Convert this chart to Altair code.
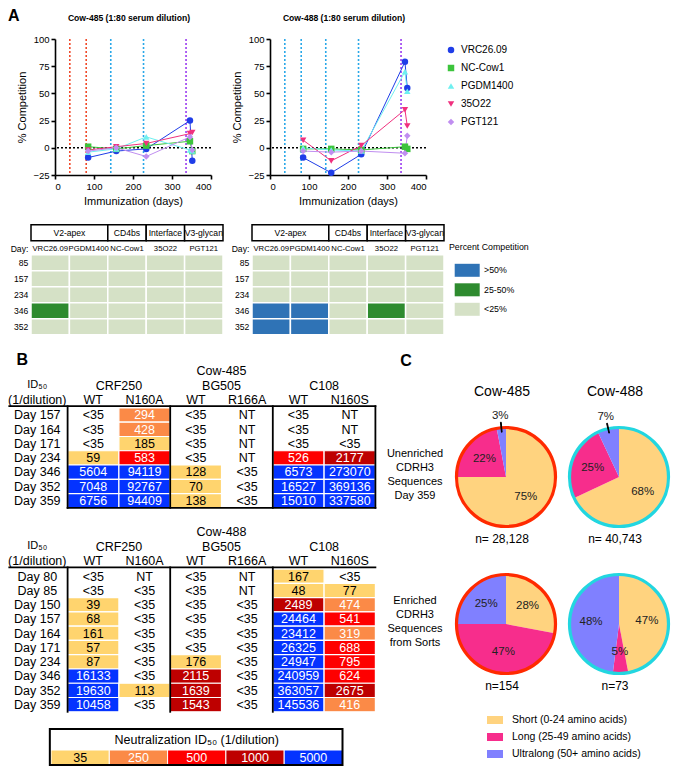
import math
import altair as alt
import pandas as pd

# ============================ DATA ============================
# --- Panel A: competition ELISA (% competition) ---
comp_days = [85, 157, 234, 346, 352]
antibodies = ["VRC26.09", "NC-Cow1", "PGDM1400", "35O22", "PGT121"]
c485_vrc2609 = [-9, -3, -1, 25, -12]
c485_nccow1 = [1, -1, 2, 6, -3]
c485_pgdm1400 = [-4, -1, 10, -2, -3]
c485_35o22 = [-2, 1, 4, 13, 14]
c485_pgt121 = [-3, 0, -8, 10, -2]
c488_vrc2609 = [-9, -23, -6, 79, 55]
c488_nccow1 = [-1, -1, -2, 1, -1]
c488_pgdm1400 = [0, -2, -3, 70, 52]
c488_35o22 = [7, -12, 2, 35, 20]
c488_pgt121 = [-3, -4, -3, -5, 11]
imm_kinds = ["Immunogen 1", "Immunogen 2", "Immunogen 3"]
imm485_days = [38, 80, 143, 227, 336]
imm485_kind = ["Immunogen 1", "Immunogen 1", "Immunogen 2", "Immunogen 2", "Immunogen 3"]
imm488_days = [38, 80, 143, 227, 336]
imm488_kind = ["Immunogen 2", "Immunogen 2", "Immunogen 2", "Immunogen 2", "Immunogen 3"]
x_ticks = [0, 100, 200, 300, 400]
y_ticks = [-25, 0, 25, 50, 75, 100]
line_titles = ["Cow-485 (1:80 serum dilution)", "Cow-488 (1:80 serum dilution)"]

# --- Panel A: heat maps ---
heat_cols = ["VRC26.09", "PGDM1400", "NC-Cow1", "35O22", "PGT121"]
heat_days = [85, 157, 234, 346, 352]
epitopes = ["V2-apex", "CD4bs", "Interface", "V3-glycan"]
epitope_ncols = [2, 1, 1, 1]
levels = [">50%", "25-50%", "<25%"]
heat485_rows = [
    ["<25%", "<25%", "<25%", "<25%", "<25%"],
    ["<25%", "<25%", "<25%", "<25%", "<25%"],
    ["<25%", "<25%", "<25%", "<25%", "<25%"],
    ["25-50%", "<25%", "<25%", "<25%", "<25%"],
    ["<25%", "<25%", "<25%", "<25%", "<25%"],
]
heat488_rows = [
    ["<25%", "<25%", "<25%", "<25%", "<25%"],
    ["<25%", "<25%", "<25%", "<25%", "<25%"],
    ["<25%", "<25%", "<25%", "<25%", "<25%"],
    [">50%", ">50%", "<25%", "25-50%", "<25%"],
    [">50%", ">50%", "<25%", "<25%", "<25%"],
]

# --- Panel B: neutralization ID50 tables ---
b_groups = ["CRF250", "BG505", "C108"]
b_sub = ["WT", "N160A", "WT", "R166A", "WT", "N160S"]
t485_days = [157, 164, 171, 234, 346, 352, 359]
t485_crf_wt = ["<35", "<35", "<35", "59", "5604", "7048", "6756"]
t485_crf_n160a = ["294", "428", "185", "583", "94119", "92767", "94409"]
t485_bg_wt = ["<35", "<35", "<35", "<35", "128", "70", "138"]
t485_bg_r166a = ["NT", "NT", "NT", "NT", "<35", "<35", "<35"]
t485_c108_wt = ["<35", "<35", "<35", "526", "6573", "16527", "15010"]
t485_c108_n160s = ["NT", "NT", "<35", "2177", "273070", "369136", "337580"]
t488_days = [80, 85, 150, 157, 164, 171, 234, 346, 352, 359]
t488_crf_wt = ["<35", "<35", "39", "68", "161", "57", "87", "16133", "19630", "10458"]
t488_crf_n160a = ["NT", "<35", "<35", "<35", "<35", "<35", "<35", "<35", "113", "<35"]
t488_bg_wt = ["<35", "<35", "<35", "<35", "<35", "<35", "176", "2115", "1639", "1543"]
t488_bg_r166a = ["NT", "NT", "<35", "<35", "<35", "<35", "<35", "<35", "<35", "<35"]
t488_c108_wt = ["167", "48", "2489", "24464", "23412", "26325", "24947", "240959", "363057", "145536"]
t488_c108_n160s = ["<35", "77", "474", "541", "319", "688", "795", "624", "2675", "416"]
neut_labels = ["35", "250", "500", "1000", "5000"]
neut_thresholds = [35, 250, 500, 1000, 5000]

# --- Panel C: CDRH3 length pies ---
pie_cows = ["Cow-485", "Cow-488"]
pie_rows = ["Unenriched", "Enriched"]
len_classes = ["Short (0-24 amino acids)", "Long (25-49 amino acids)", "Ultralong (50+ amino acids)"]
pie485_unenriched = [75, 22, 3]
pie488_unenriched = [68, 25, 7]
pie485_enriched = [28, 47, 25]
pie488_enriched = [47, 5, 48]
pie_n_unenriched = ["n= 28,128", "n= 40,743"]
pie_n_enriched = ["n=154", "n=73"]
pie_row_text = ["Unenriched\nCDRH3\nSequences\nDay 359", "Enriched\nCDRH3\nSequences\nfrom Sorts"]

# ============================ STYLE ============================
FONT = '"Liberation Sans", Arial, sans-serif'
ab_colors = ["#1f3de8", "#3cc43c", "#6ff0f0", "#f0307e", "#c08ef0"]
ab_shapes = ["circle", "square", "triangle-up", "triangle-down", "diamond"]
imm_colors = ["#f04a2a", "#2aa8e8", "#9b3df0"]
level_colors = ["#2f73b6", "#2e8b2f", "#d5e1c6"]
neut_colors = ["#ffd46e", "#fb8a47", "#fe0000", "#be0000", "#0433ff"]
pie_colors = ["#ffd37f", "#f72d8c", "#8080ff"]
pie_ring = ["#ff2a00", "#22d6e0"]

# All rows share the same left origin (the left axis of the first line chart);
# label columns of the lower rows hang to the left of that origin.
ORIGIN = 50.7


# ============================ PANEL A: LINES ============================
def comp_frame(arrays):
    rows = []
    for ab, vals in zip(antibodies, arrays):
        for d, v in zip(comp_days, vals):
            rows.append({"ab": ab, "day": d, "val": v})
    return pd.DataFrame(rows)


def axis(values, title):
    return alt.Axis(values=values, title=title, grid=False, domainColor="black", domainWidth=1.6,
                    tickColor="black", tickWidth=1.6, tickSize=4, labelFontSize=9.5, labelColor="black",
                    labelFont=FONT, titleFont=FONT, titleFontSize=11, titleFontWeight="normal",
                    titleColor="black", labelPadding=2, titlePadding=5)


def line_panel(arrays, imm_days, imm_kind, title, legend, letter):
    df = comp_frame(arrays)
    imm = pd.DataFrame({"day": imm_days, "kind": imm_kind})
    xs = alt.Scale(domain=[0, 400], nice=False, zero=False)
    ys = alt.Scale(domain=[-25, 100], nice=False, zero=False)
    X = alt.X("day:Q", scale=xs, axis=axis(x_ticks, "Immunization (days)"))
    Y = alt.Y("val:Q", scale=ys, axis=axis(y_ticks, "% Competition"))
    cscale = alt.Scale(domain=antibodies, range=ab_colors)
    sscale = alt.Scale(domain=antibodies, range=ab_shapes)
    rules = alt.Chart(imm).mark_rule(strokeDash=[2, 2], strokeWidth=1.6).encode(
        x=X, stroke=alt.Stroke("kind:N", scale=alt.Scale(domain=imm_kinds, range=imm_colors), legend=None))
    zero = alt.Chart(pd.DataFrame({"val": [0]})).mark_rule(
        strokeDash=[2, 2], strokeWidth=1.6, color="black").encode(y=Y)
    lines = alt.Chart(df).mark_line(strokeWidth=1).encode(
        x=X, y=Y, color=alt.Color("ab:N", scale=cscale, legend=legend))
    pts = alt.Chart(df).mark_point(filled=True, size=42, opacity=1).encode(
        x=X, y=Y, color=alt.Color("ab:N", scale=cscale, legend=legend),
        shape=alt.Shape("ab:N", scale=sscale, legend=legend))
    ttl = alt.Chart(pd.DataFrame({"t": [title]})).mark_text(
        font=FONT, fontSize=8.6, fontWeight="bold", color="black").encode(
        text="t:N", x=alt.value(74), y=alt.value(-21))
    layers = [rules, zero, lines, pts, ttl]
    if letter:
        layers.append(alt.Chart(pd.DataFrame({"t": [letter]})).mark_text(
            font=FONT, fontSize=16, fontWeight="bold", align="left", baseline="top", color="black").encode(
            text="t:N", x=alt.value(-47), y=alt.value(-31)))
    return alt.layer(*layers).properties(width=156, height=136)


line_legend = alt.Legend(orient="none", legendX=176, legendY=6, title=None, labelFont=FONT,
                         labelFontSize=10, labelColor="black", symbolSize=42, rowPadding=8,
                         labelOffset=5, symbolStrokeWidth=0)

l485 = line_panel([c485_vrc2609, c485_nccow1, c485_pgdm1400, c485_35o22, c485_pgt121],
                  imm485_days, imm485_kind, line_titles[0], None, "A")
l488 = line_panel([c488_vrc2609, c488_nccow1, c488_pgdm1400, c488_35o22, c488_pgt121],
                  imm488_days, imm488_kind, line_titles[1], line_legend, None)
rowA = alt.hconcat(l485, l488, spacing=59, bounds="flush").resolve_scale(
    color="independent", shape="independent", stroke="independent")

# ============================ PANEL A: HEAT MAPS ============================
H_PX = 38.4


def heat_panel(rows, legend, x_start):
    cells = []
    for ri, row in enumerate(rows):
        for ci, lev in enumerate(row):
            cells.append({"x0": ci, "x1": ci + 1, "y0": ri, "y1": ri + 1, "lev": lev})
    cells = pd.DataFrame(cells)
    starts = [sum(epitope_ncols[:i]) for i in range(len(epitopes))]
    hdr = pd.DataFrame({"ep": epitopes, "x0": starts,
                        "x1": [s + n for s, n in zip(starts, epitope_ncols)],
                        "xc": [s + n / 2 for s, n in zip(starts, epitope_ncols)]})
    hdr["y0"], hdr["y1"], hdr["yc"] = -1.875, -0.875, -1.375
    cl = pd.DataFrame({"t": heat_cols, "xc": [i + 0.5 for i in range(len(heat_cols))]})
    cl["yc"] = -0.39
    rl = pd.DataFrame({"t": ["Day:"] + [str(d) for d in heat_days],
                       "yc": [-0.39] + [i + 0.5 for i in range(len(heat_days))]})
    rl["xc"] = -0.07
    xs = alt.Scale(domain=[x_start, 5], nice=False, zero=False)
    ys = alt.Scale(domain=[-2.05, 5.0], nice=False, zero=False, reverse=True)
    rect = alt.Chart(cells).mark_rect(stroke="white", strokeWidth=1.5).encode(
        x=alt.X("x0:Q", scale=xs, axis=None), x2="x1:Q",
        y=alt.Y("y0:Q", scale=ys, axis=None), y2="y1:Q",
        color=alt.Color("lev:N", scale=alt.Scale(domain=levels, range=level_colors), legend=legend))
    box = alt.Chart(hdr).mark_rect(fill="white", stroke="black", strokeWidth=1.5).encode(
        x=alt.X("x0:Q", scale=xs, axis=None), x2="x1:Q",
        y=alt.Y("y0:Q", scale=ys, axis=None), y2="y1:Q")
    boxt = alt.Chart(hdr).mark_text(font=FONT, fontSize=8.6, color="black").encode(
        x=alt.X("xc:Q", scale=xs, axis=None), y=alt.Y("yc:Q", scale=ys, axis=None), text="ep:N")
    colt = alt.Chart(cl).mark_text(font=FONT, fontSize=7.7, color="black").encode(
        x=alt.X("xc:Q", scale=xs, axis=None), y=alt.Y("yc:Q", scale=ys, axis=None), text="t:N")
    rowt = alt.Chart(rl).mark_text(font=FONT, fontSize=8.6, color="black", align="right").encode(
        x=alt.X("xc:Q", scale=xs, axis=None), y=alt.Y("yc:Q", scale=ys, axis=None), text="t:N")
    return alt.layer(rect, box, boxt, colt, rowt).properties(width=(5 - x_start) * H_PX, height=112.8)


heat_legend = alt.Legend(orient="none", legendX=197, legendY=21, title="Percent Competition",
                         titleFont=FONT, titleFontSize=8.8, titleFontWeight="normal", titleColor="black",
                         titlePadding=6, labelFont=FONT, labelFontSize=8.8, labelColor="black",
                         symbolType="M-0.544,-0.52H1.456V0.52H-0.544Z", symbolSize=625,
                         symbolStrokeWidth=0, rowPadding=0.5, labelOffset=10)
H485_START = (ORIGIN - 26.7) / H_PX
h485 = heat_panel(heat485_rows, None, H485_START)
h488 = heat_panel(heat488_rows, heat_legend, 0)
rowH = alt.hconcat(h485, h488, spacing=247.7 - (ORIGIN + (5 - H485_START) * H_PX),
                   bounds="flush").resolve_scale(color="independent")

# ============================ PANEL B: TABLES ============================
T_PX = 51.3
T_PY = 14.27
T_X0 = (ORIGIN - 63.3) / T_PX
T_LBL = (33 - 63.3) / T_PX
T_LINE0 = (5 - 63.3) / T_PX


def neut_cat(v):
    if not v[0].isdigit():
        return ""
    n = int(v)
    cat = ""
    for lab, th in zip(neut_labels, neut_thresholds):
        if n >= th:
            cat = lab
    return cat


def table_panel(days, columns, boxed, cow_label, y0, letter):
    n = len(days)
    cells = []
    for ci, vals in enumerate(columns):
        for ri, v in enumerate(vals):
            cells.append({"x0": ci, "x1": ci + 1, "y0": ri, "y1": ri + 1,
                          "xc": ci + 0.5, "yc": ri + 0.52, "txt": v, "cat": neut_cat(v)})
    cells = pd.DataFrame(cells)
    heads = [{"t": cow_label, "xc": 3.0, "yc": -2.6}]
    heads += [{"t": g, "xc": 2 * i + 1, "yc": -1.55} for i, g in enumerate(b_groups)]
    heads += [{"t": s, "xc": i + 0.5, "yc": -0.55} for i, s in enumerate(b_sub)]
    heads += [{"t": "(1/dilution)", "xc": T_LBL, "yc": -0.55}]
    heads += [{"t": f"Day {d}", "xc": T_LBL, "yc": i + 0.52} for i, d in enumerate(days)]
    heads = pd.DataFrame(heads)
    rules = [{"x": T_LINE0, "x2": 6, "y": -0.12, "y2": -0.12}]
    rules += [{"x": v, "x2": v, "y": -0.12, "y2": n} for v in (0, 2, 4)]
    if boxed:
        rules += [{"x": 6, "x2": 6, "y": -0.12, "y2": n}, {"x": 0, "x2": 6, "y": n, "y2": n}]
    rules = pd.DataFrame(rules)
    xs = alt.Scale(domain=[T_X0, 6], nice=False, zero=False)
    ys = alt.Scale(domain=[y0, n], nice=False, zero=False, reverse=True)
    fills = alt.Chart(cells).transform_filter("datum.cat != ''").mark_rect(
        stroke="white", strokeWidth=1.2).encode(
        x=alt.X("x0:Q", scale=xs, axis=None), x2="x1:Q",
        y=alt.Y("y0:Q", scale=ys, axis=None), y2="y1:Q",
        color=alt.Color("cat:N", scale=alt.Scale(domain=neut_labels, range=neut_colors), legend=None))
    texts = alt.Chart(cells).mark_text(font=FONT, fontSize=12.5).encode(
        x=alt.X("xc:Q", scale=xs, axis=None), y=alt.Y("yc:Q", scale=ys, axis=None), text="txt:N",
        fill=alt.condition("datum.cat == '' || datum.cat == '35'", alt.value("black"), alt.value("white")))
    head = alt.Chart(heads).mark_text(font=FONT, fontSize=12.5, color="black").encode(
        x=alt.X("xc:Q", scale=xs, axis=None), y=alt.Y("yc:Q", scale=ys, axis=None), text="t:N")
    idt = alt.Chart(pd.DataFrame({"t": ["ID₅₀"], "xc": [T_LBL], "yc": [-1.6]})).mark_text(
        font=FONT, fontSize=11, color="black").encode(
        x=alt.X("xc:Q", scale=xs, axis=None), y=alt.Y("yc:Q", scale=ys, axis=None), text="t:N")
    lines = alt.Chart(rules).mark_rule(color="black", strokeWidth=1.8, strokeCap="square").encode(
        x=alt.X("x:Q", scale=xs, axis=None), x2="x2:Q",
        y=alt.Y("y:Q", scale=ys, axis=None), y2="y2:Q")
    layers = [fills, texts, head, idt, lines]
    if letter:
        layers.append(alt.Chart(pd.DataFrame({"t": [letter]})).mark_text(
            font=FONT, fontSize=16, fontWeight="bold", color="black").encode(
            text="t:N", x=alt.value(18 - ORIGIN), y=alt.value(9)))
    return alt.layer(*layers).properties(width=(6 - T_X0) * T_PX, height=(n - y0) * T_PY)


t485 = table_panel(t485_days, [t485_crf_wt, t485_crf_n160a, t485_bg_wt, t485_bg_r166a,
                               t485_c108_wt, t485_c108_n160s], True, "Cow-485", -3.99, "B")
t488 = table_panel(t488_days, [t488_crf_wt, t488_crf_n160a, t488_bg_wt, t488_bg_r166a,
                               t488_c108_wt, t488_c108_n160s], False, "Cow-488", -3.16, None)

L_PX = 58.3
L_X0 = (ORIGIN - 46.7) / L_PX
leg_cells = pd.DataFrame({"lab": neut_labels, "x0": list(range(5)), "x1": list(range(1, 6)),
                          "xc": [i + 0.5 for i in range(5)]})
lxs = alt.Scale(domain=[L_X0, 5], nice=False, zero=False)
lys = alt.Scale(domain=[0, 36], nice=False, zero=False, reverse=True)
leg_rect = alt.Chart(leg_cells).transform_calculate(y0="21", y1="36").mark_rect(
    stroke="white", strokeWidth=1).encode(
    x=alt.X("x0:Q", scale=lxs, axis=None), x2="x1:Q",
    y=alt.Y("y0:Q", scale=lys, axis=None), y2="y1:Q",
    color=alt.Color("lab:N", scale=alt.Scale(domain=neut_labels, range=neut_colors), legend=None))
leg_text = alt.Chart(leg_cells).transform_calculate(yc="29").mark_text(font=FONT, fontSize=12.5).encode(
    x=alt.X("xc:Q", scale=lxs, axis=None), y=alt.Y("yc:Q", scale=lys, axis=None), text="lab:N",
    fill=alt.condition("datum.lab == '35'", alt.value("black"), alt.value("white")))
leg_title = alt.Chart(pd.DataFrame({"t": ["Neutralization ID₅₀ (1/dilution)"], "xc": [2.5], "yc": [11]})).mark_text(
    font=FONT, fontSize=12.5, color="black").encode(
    x=alt.X("xc:Q", scale=lxs, axis=None), y=alt.Y("yc:Q", scale=lys, axis=None), text="t:N")
leg_box = alt.Chart(pd.DataFrame({"x0": [-0.02], "x1": [5], "y0": [0], "y1": [36]})).mark_rect(
    fillOpacity=0, stroke="black", strokeWidth=2).encode(
    x=alt.X("x0:Q", scale=lxs, axis=None), x2="x1:Q",
    y=alt.Y("y0:Q", scale=lys, axis=None), y2="y1:Q")
neut_leg = alt.layer(leg_rect, leg_text, leg_title, leg_box).properties(width=(5 - L_X0) * L_PX, height=36)

panelB = alt.vconcat(t485, t488, neut_leg, spacing=14)

# ============================ PANEL C: PIES ============================
pie_rows_data = []
for cow, row, vals in [("Cow-485", "Unenriched", pie485_unenriched), ("Cow-488", "Unenriched", pie488_unenriched),
                       ("Cow-485", "Enriched", pie485_enriched), ("Cow-488", "Enriched", pie488_enriched)]:
    c = 0
    for cls, v in zip(len_classes, vals):
        pie_rows_data.append({"cow": cow, "row": row, "cls": cls, "v": v, "t0": c, "t1": c + v,
                              "tm": c + v / 2, "lm0": c + v / 2 - 0.12, "lm1": c + v / 2 + 0.12,
                              "lab": f"{v}%", "out": bool(v < 10 and cls == len_classes[2])})
        c += v
pies = pd.DataFrame(pie_rows_data)
rings = pd.DataFrame([{"cow": c, "row": r} for r in pie_rows for c in pie_cows])
nlab = pd.DataFrame({"cow": pie_cows * 2, "row": ["Unenriched"] * 2 + ["Enriched"] * 2,
                     "t": pie_n_unenriched + pie_n_enriched})
heads_c = pd.DataFrame({"cow": pie_cows, "row": ["Unenriched"] * 2})
rowlab = pd.DataFrame({"cow": ["Cow-485"] * 2, "row": pie_rows, "t": pie_row_text})

cx = alt.X("cow:N", scale=alt.Scale(domain=pie_cows, range=[121, 234], type="point", padding=0), axis=None)
cy = alt.Y("row:N", scale=alt.Scale(domain=pie_rows, range=[126, 273], type="point", padding=0), axis=None)
th_scale = alt.Scale(domain=[0, 100], range=[0, 2 * math.pi])

pie_legend = alt.Legend(orient="none", legendX=102, legendY=361, title=None, labelFont=FONT,
                        labelFontSize=10.5, labelColor="black", symbolType="M-1,-0.5H1V0.5H-1Z",
                        symbolSize=256, symbolStrokeWidth=0, rowPadding=3, labelOffset=9)

slices = alt.Chart(pies).mark_arc(radius=49.5).encode(
    x=cx, y=cy, theta=alt.Theta("t0:Q", scale=th_scale, stack=None), theta2="t1:Q",
    color=alt.Color("cls:N", scale=alt.Scale(domain=len_classes, range=pie_colors), legend=pie_legend))
ring = alt.Chart(rings).mark_arc(radius=49.5, theta=0, theta2=2 * math.pi, fillOpacity=0, strokeWidth=3.2).encode(
    x=cx, y=cy, stroke=alt.Stroke("cow:N", scale=alt.Scale(domain=pie_cows, range=pie_ring), legend=None))
in_lab = alt.Chart(pies).transform_filter("!datum.out").mark_text(
    radius=28, font=FONT, fontSize=11.5, color="#222222").encode(
    x=cx, y=cy, theta=alt.Theta("tm:Q", scale=th_scale, stack=None), text="lab:N")
out_lab = alt.Chart(pies).transform_filter("datum.out").mark_text(
    radius=61, font=FONT, fontSize=11.5, color="#222222").encode(
    x=cx, y=cy, theta=alt.Theta("tm:Q", scale=th_scale, stack=None), text="lab:N")
leader = alt.Chart(pies).transform_filter("datum.out").mark_arc(
    radius=55, radius2=45, stroke="black", strokeWidth=1, fill="black").encode(
    x=cx, y=cy, theta=alt.Theta("lm0:Q", scale=th_scale, stack=None), theta2="lm1:Q")
head_t = alt.Chart(heads_c).mark_text(font=FONT, fontSize=14, color="black", dy=-85, dx=-4).encode(
    x=cx, y=cy, text="cow:N")
n_t = alt.Chart(nlab).mark_text(font=FONT, fontSize=12, color="black", dy=62, dx=-4).encode(
    x=cx, y=cy, text="t:N")
row_t = alt.Chart(rowlab).mark_text(font=FONT, fontSize=11, color="black", dx=-91, dy=-23,
                                    lineBreak="\n", lineHeight=14).encode(x=cx, y=cy, text="t:N")
c_t = alt.Chart(pd.DataFrame({"t": ["C"]})).mark_text(
    font=FONT, fontSize=16, fontWeight="bold", color="black").encode(
    text="t:N", x=alt.value(21), y=alt.value(10))
panelC = alt.layer(slices, ring, leader, in_lab, out_lab, head_t, n_t, row_t, c_t).properties(
    width=287, height=410)

rowBC = alt.hconcat(panelB, panelC, spacing=8).resolve_scale(color="independent", stroke="independent")

chart = alt.concat(rowA, rowH, rowBC, columns=1, align="none", spacing=15).resolve_scale(
    color="independent", stroke="independent", shape="independent").properties(padding=0)
chart = chart.configure_view(stroke=None).configure_text(font=FONT)

chart.save("out.html", embed_options={"renderer": "svg", "actions": False})
